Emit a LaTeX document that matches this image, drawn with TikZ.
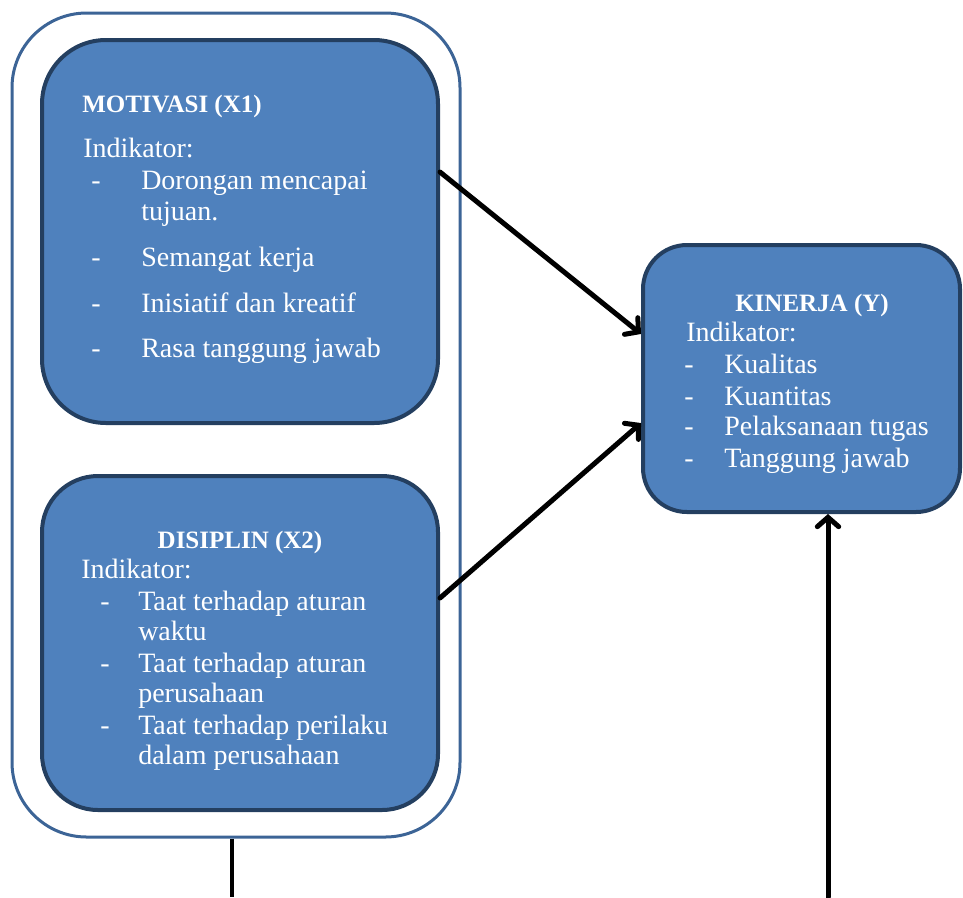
\documentclass[tikz,border=0pt]{standalone}
\usepackage{fontspec}
\setmainfont{Liberation Serif}
\usetikzlibrary{arrows.meta}
\definecolor{boxfill}{HTML}{4F81BD}
\definecolor{boxline}{HTML}{243F60}
\definecolor{groupline}{HTML}{3C6496}
\tikzset{
  varbox/.style={draw=boxline, fill=boxfill, line width=3pt, rectangle, inner sep=0pt},
  title/.style={font=\bfseries\fontsize{18.75}{22}\selectfont, text=white, inner sep=0pt, anchor=base},
  body/.style={font=\fontsize{21}{25}\selectfont, text=white, inner sep=0pt, anchor=base west},
  conn/.style={line width=3.75pt, line cap=round, -{Straight Barb[length=7pt,width=16pt,line cap=round]}}
}
\begin{document}
\begin{tikzpicture}[x=0.75pt, y=-0.75pt]
        \useasboundingbox (0,0) rectangle (963,897);

        % Draw the outer group frame
        \node[draw=groupline, line width=2.25pt, rounded corners=56pt, minimum width=336pt, minimum height=618pt, inner sep=0pt] (group) at (236,425) {};

        % Draw the three variable boxes
        \node[varbox, rounded corners=48pt, minimum width=297pt, minimum height=287.25pt] (mot) at (240,231.5) {};
        \node[varbox, rounded corners=42pt, minimum width=297pt, minimum height=250.5pt] (dis) at (240,643) {};
        \node[varbox, rounded corners=33pt, minimum width=237.75pt, minimum height=200.25pt] (kin) at (801.5,378.5) {};

        % Texts of MOTIVASI (X1)
        \node[title, anchor=base west] (motT) at (82,112) {MOTIVASI (X1)};
        \node[body] (motI) at (83,157) {Indikator:};
        \node[body] (motd1) at (91,189) {-};
        \node[body] (mot1) at (141,189) {Dorongan mencapai};
        \node[body] (mot1b) at (141,220) {tujuan.};
        \node[body] (motd2) at (91,266) {-};
        \node[body] (mot2) at (141,266) {Semangat kerja};
        \node[body] (motd3) at (91,312) {-};
        \node[body] (mot3) at (141,312) {Inisiatif dan kreatif};
        \node[body] (motd4) at (91,357) {-};
        \node[body] (mot4) at (141,357) {Rasa tanggung jawab};

        % Texts of DISIPLIN (X2)
        \node[title] (disT) at (240,548) {DISIPLIN (X2)};
        \node[body] (disI) at (81,578) {Indikator:};
        \node[body] (disd1) at (100,610) {-};
        \node[body] (dis1) at (138,610) {Taat terhadap aturan};
        \node[body] (dis1b) at (138,640) {waktu};
        \node[body] (disd2) at (100,672) {-};
        \node[body] (dis2) at (138,672) {Taat terhadap aturan};
        \node[body] (dis2b) at (138,702) {perusahaan};
        \node[body] (disd3) at (100,734) {-};
        \node[body] (dis3) at (138,734) {Taat terhadap perilaku};
        \node[body] (dis3b) at (138,764) {dalam perusahaan};

        % Texts of KINERJA (Y)
        \node[title] (kinT) at (812,311) {KINERJA (Y)};
        \node[body] (kinI) at (686,341) {Indikator:};
        \node[body] (kind1) at (684,373) {-};
        \node[body] (kin1) at (724,373) {Kualitas};
        \node[body] (kind2) at (684,405) {-};
        \node[body] (kin2) at (724,405) {Kuantitas};
        \node[body] (kind3) at (684,435) {-};
        \node[body] (kin3) at (724,435) {Pelaksanaan tugas};
        \node[body] (kind4) at (684,467) {-};
        \node[body] (kin4) at (724,467) {Tanggung jawab};

        % Connectors
        \draw[conn] ([yshift=44.6pt]mot.east) -- ([yshift=33.4pt]kin.west);
        \draw[conn] ([yshift=33.75pt]dis.east) -- ([yshift=-33.4pt]kin.west);
        \coordinate (groupbot) at (232,897);
        \coordinate (kinbot) at (828,897);
        \draw[line width=3pt] (group.south -| groupbot) -- (groupbot);
        \draw[conn] (kinbot) -- (kinbot |- kin.south);
    \end{tikzpicture}
\end{document}
